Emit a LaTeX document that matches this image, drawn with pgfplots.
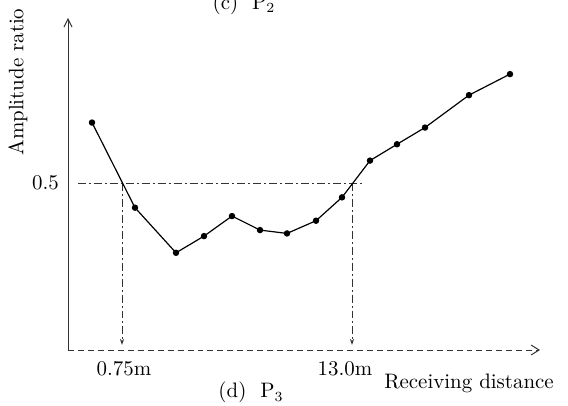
\documentclass[border=0pt]{standalone}
\usepackage{pgfplots}
\pgfplotsset{compat=1.18}
\usetikzlibrary{arrows.meta}
\begin{document}
\begin{tikzpicture}
\begin{axis}[
  at={(34bp,28bp)}, anchor=origin,
  scale only axis, width=236bp, height=166bp,
  xmin=68, xmax=540, ymin=0, ymax=0.994,
  axis lines=left,
  axis line style={line width=0.5pt, black!80},
  x axis line style={-{Straight Barb[length=4pt,width=5pt]}, densely dashed},
  y axis line style={-{Straight Barb[length=4pt,width=4pt]}},
  xtick=\empty, ytick={0.5}, yticklabels={0.5},
  major tick length=0pt,
  yticklabel style={font=\fontsize{10.5}{12}\selectfont, xshift=-1bp},
  clip=false,
]
\addplot[black!80, line width=0.4pt, dash pattern=on 4pt off 1.5pt on 1pt off 1.5pt] coordinates {(78,0.5) (364,0.5)};
\addplot[black!80, line width=0.4pt, dash pattern=on 4pt off 1.5pt on 1pt off 1.5pt, -{Stealth[length=3pt,width=2pt]}] coordinates {(122,0.5) (122,0.015)};
\addplot[black!80, line width=0.4pt, dash pattern=on 4pt off 1.5pt on 1pt off 1.5pt, -{Stealth[length=3pt,width=2pt]}] coordinates {(352,0.5) (352,0.015)};
\addplot[black, line width=0.6pt, mark=*, mark size=1.3pt] coordinates {
(92,0.681) (135,0.426) (176,0.291) (204,0.341) (232,0.401) (260,0.359)
(287,0.349) (316,0.387) (342,0.457) (370,0.567) (397,0.616) (425,0.666)
(469,0.763) (510,0.826)};
\node[font=\fontsize{10.5}{12}\selectfont] at (axis cs:124,-0.057) {0.75m};
\node[font=\fontsize{10.5}{12}\selectfont] at (axis cs:345,-0.057) {13.0m};
\node[font=\fontsize{10.5}{12}\selectfont] at (axis cs:469,-0.099) {Receiving distance};
\node[font=\fontsize{10.5}{12}\selectfont] at (axis cs:251,-0.128) {(d)\ \ P$_3$};
\node[font=\fontsize{10.5}{12}\selectfont, rotate=90] at (axis cs:18,0.802) {Amplitude\ ratio};
\node[font=\fontsize{10.5}{12}\selectfont] at (axis cs:244,1.036) {(c)\ \ P$_2$};
\end{axis}
\pgfresetboundingbox
\path[use as bounding box] (0,0) rectangle (284bp,203bp);
\end{tikzpicture}
\end{document}
